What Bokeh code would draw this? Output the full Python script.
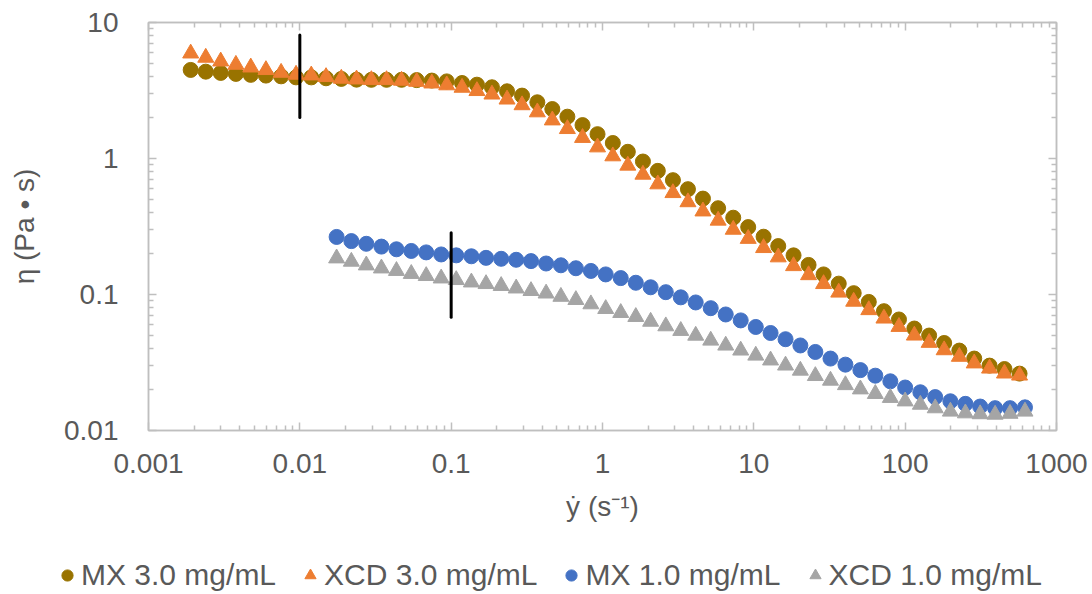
from bokeh.plotting import figure
from bokeh.layouts import column
from bokeh.models import (LogAxis, FixedTicker, CustomJSTickFormatter, Legend,
                          LegendItem)
from bokeh.embed import file_html
from bokeh.resources import INLINE

# ---------------- data ----------------
mx3_x = [0.0019, 0.00239, 0.0030, 0.00378, 0.00474, 0.00597, 0.00752, 0.00944,
         0.0119, 0.0149, 0.0188, 0.0237, 0.0297, 0.0374, 0.0470, 0.0592, 0.0745,
         0.0935, 0.118, 0.148, 0.186, 0.234, 0.294, 0.371, 0.466, 0.586, 0.738,
         0.927, 1.17, 1.47, 1.85, 2.32, 2.92, 3.67, 4.61, 5.81, 7.31, 9.18, 11.6,
         14.5, 18.3, 23.0, 28.9, 36.4, 45.7, 57.5, 72.4, 91.0, 115, 144, 181,
         228, 286, 361, 453, 570]
mx3_eta = [4.48, 4.35, 4.26, 4.19, 4.12, 4.07, 4.02, 3.95, 3.95, 3.89, 3.85,
           3.80, 3.79, 3.79, 3.79, 3.77, 3.74, 3.69, 3.59, 3.49, 3.34, 3.12,
           2.90, 2.59, 2.31, 2.03, 1.76, 1.51, 1.30, 1.12, 0.950, 0.811, 0.693,
           0.595, 0.507, 0.431, 0.367, 0.313, 0.266, 0.227, 0.194, 0.165,
           0.1405, 0.1202, 0.1023, 0.0882, 0.0754, 0.0655, 0.0562, 0.0499,
           0.0440, 0.0387, 0.0338, 0.0300, 0.0283, 0.0262]
xcd3_x = mx3_x
xcd3_eta = [5.93, 5.52, 5.18, 4.90, 4.68, 4.48, 4.28, 4.14, 4.09, 3.98, 3.87,
            3.82, 3.78, 3.78, 3.74, 3.67, 3.57, 3.46, 3.32, 3.14, 2.96, 2.72,
            2.47, 2.19, 1.91, 1.65, 1.42, 1.21, 1.04, 0.888, 0.762, 0.647,
            0.558, 0.478, 0.409, 0.350, 0.300, 0.257, 0.220, 0.188, 0.162,
            0.139, 0.1196, 0.1035, 0.0887, 0.0769, 0.0667, 0.0579, 0.0500,
            0.0442, 0.0390, 0.0349, 0.0312, 0.0286, 0.0263, 0.0254]
mx1_x = [0.0175, 0.0219, 0.0275, 0.0346, 0.0435, 0.0545, 0.0684, 0.0859, 0.108,
         0.136, 0.170, 0.214, 0.269, 0.337, 0.424, 0.531, 0.667, 0.838, 1.05,
         1.32, 1.66, 2.08, 2.62, 3.29, 4.13, 5.19, 6.52, 8.19, 10.3, 12.9, 16.2,
         20.3, 25.5, 32.1, 40.3, 50.6, 63.5, 79.8, 100, 126, 158, 199, 250, 313,
         393, 493, 619]
mx1_eta = [0.265, 0.247, 0.236, 0.225, 0.215, 0.209, 0.204, 0.197, 0.194,
           0.191, 0.186, 0.183, 0.180, 0.176, 0.169, 0.164, 0.156, 0.149,
           0.1405, 0.132, 0.122, 0.113, 0.104, 0.0953, 0.0874, 0.0793, 0.0713,
           0.0645, 0.0577, 0.0521, 0.0469, 0.0422, 0.0378, 0.0338, 0.0305,
           0.0278, 0.0253, 0.0230, 0.0207, 0.0191, 0.0176, 0.0164, 0.0157,
           0.0150, 0.0146, 0.0146, 0.0148]
xcd1_x = mx1_x
xcd1_eta = [0.1847, 0.1746, 0.1640, 0.1558, 0.1493, 0.1420, 0.1370, 0.1315,
            0.1280, 0.1229, 0.1196, 0.1158, 0.1110, 0.1063, 0.1019, 0.0964,
            0.0913, 0.0849, 0.0784, 0.0733, 0.0685, 0.0632, 0.0585, 0.0541,
            0.0499, 0.0459, 0.0422, 0.0388, 0.0356, 0.0328, 0.0301, 0.0276,
            0.0252, 0.0233, 0.0216, 0.0201, 0.0186, 0.0174, 0.0164, 0.0155,
            0.0146, 0.0138, 0.0134, 0.0132, 0.0131, 0.0133, 0.0138]

# vertical marker bars
bar_x = [0.01, 0.1]
bar_low = [2.0, 0.068]
bar_high = [8.1, 0.285]

x_ticks = [0.001, 0.01, 0.1, 1, 10, 100, 1000]
x_tick_labels = ["0.001", "0.01", "0.1", "1", "10", "100", "1000"]
y_ticks = [0.01, 0.1, 1, 10]
y_tick_labels = ["0.01", "0.1", "1", "10"]

series_names = ["MX 3.0 mg/mL", "XCD 3.0 mg/mL", "MX 1.0 mg/mL", "XCD 1.0 mg/mL"]
series_markers = ["circle", "triangle", "circle", "triangle"]
series_colors = ["#997300", "#ED7D31", "#4472C4", "#A5A5A5"]

# ---------------- style ----------------
FONT = "Liberation Sans"
TXT = "#595959"
AX = "#BFBFBF"
FS = "28px"
W = 1092
H_MAIN = 540
H_LEG = 54

p = figure(width=W, height=H_MAIN, x_axis_type="log", y_axis_type="log",
           x_range=(0.001, 1000), y_range=(0.01, 10),
           output_backend="svg", toolbar_location=None,
           min_border_left=148, min_border_right=36,
           min_border_top=22, min_border_bottom=110)
p.frame_align = False
p.xgrid.visible = False
p.ygrid.visible = False
p.outline_line_color = AX
p.outline_line_width = 1.5
p.background_fill_color = "white"
p.border_fill_color = "white"

x_minor = [m * 10.0 ** e for e in range(-3, 3) for m in range(2, 10)]
y_minor = [m * 10.0 ** e for e in range(-2, 1) for m in range(2, 10)]

fmt_code = """
let best = 0, bd = 1e9;
for (let i = 0; i < vals.length; i++) {
  const d = Math.abs(Math.log10(tick) - Math.log10(vals[i]));
  if (d < bd) { bd = d; best = i; }
}
return labels[best];
"""
x_fmt = CustomJSTickFormatter(args=dict(vals=x_ticks, labels=x_tick_labels), code=fmt_code)
y_fmt = CustomJSTickFormatter(args=dict(vals=y_ticks, labels=y_tick_labels), code=fmt_code)


def style_axis(ax, ticks, minor):
    ax.ticker = FixedTicker(ticks=ticks, minor_ticks=minor)
    ax.axis_line_color = AX
    ax.axis_line_width = 1.5
    ax.major_tick_line_color = AX
    ax.major_tick_line_width = 1.5
    ax.major_tick_in = 8
    ax.major_tick_out = 0
    ax.minor_tick_line_color = AX
    ax.minor_tick_line_width = 1.5
    ax.minor_tick_in = 5
    ax.minor_tick_out = 0
    ax.major_label_text_font = FONT
    ax.major_label_text_font_size = FS
    ax.major_label_text_color = TXT
    ax.axis_label_text_font = FONT
    ax.axis_label_text_font_size = FS
    ax.axis_label_text_color = TXT
    ax.axis_label_text_font_style = "normal"


xa = p.xaxis[0]
style_axis(xa, x_ticks, x_minor)
xa.formatter = x_fmt
xa.major_label_standoff = 23
xa.axis_label = "ẏ (s⁻¹)"
xa.axis_label_standoff = 15

ya = p.yaxis[0]
style_axis(ya, y_ticks, y_minor)
ya.formatter = y_fmt
ya.major_label_standoff = 30
ya.axis_label = "η (Pa • s)"
ya.axis_label_standoff = 21

top = LogAxis()
style_axis(top, x_ticks, x_minor)
top.formatter = CustomJSTickFormatter(code="return '';")
top.major_label_text_font_size = "0px"
top.major_label_standoff = 0
p.add_layout(top, "above")

right = LogAxis()
style_axis(right, y_ticks, y_minor)
right.formatter = CustomJSTickFormatter(code="return '';")
right.major_label_text_font_size = "0px"
right.major_label_standoff = 0
p.add_layout(right, "right")

# ---------------- glyphs ----------------
series = [(mx3_x, mx3_eta), (xcd3_x, xcd3_eta), (mx1_x, mx1_eta), (xcd1_x, xcd1_eta)]
for (sx, sy), mk, col in zip(series, series_markers, series_colors):
    p.scatter(sx, sy, marker=mk, size=15 if mk == "circle" else 16,
              fill_color=col, line_color=col)

p.segment(x0=bar_x, y0=bar_low, x1=bar_x, y1=bar_high,
          line_color="black", line_width=3, line_cap="round")

# ---------------- legend (separate strip below the chart) ----------------
# The strip's ranges keep the series' points out of view; only the legend shows.
lg = figure(width=W, height=H_LEG, x_range=(0, 1), y_range=(-2, -1),
            output_backend="svg", toolbar_location=None,
            x_axis_location=None, y_axis_location=None,
            min_border_left=0, min_border_right=0,
            min_border_top=0, min_border_bottom=0)
lg.frame_align = False
lg.xgrid.visible = False
lg.ygrid.visible = False
lg.outline_line_color = None
lg.border_fill_color = "white"

items = []
for (sx, sy), name, mk, col in zip(series, series_names, series_markers, series_colors):
    rr = lg.scatter(x=sx, y=sy, marker=mk, size=12, fill_color=col, line_color=col)
    items.append(LegendItem(label=name, renderers=[rr]))

legend = Legend(
    items=items, orientation="horizontal", location=(53, 2),
    label_text_font=FONT, label_text_font_size="30px", label_text_color=TXT,
    glyph_width=28, glyph_height=28, label_standoff=0, spacing=20,
    padding=0, margin=0, border_line_alpha=0, background_fill_alpha=0)
lg.add_layout(legend)

layout = column(p, lg, spacing=0)
open("out.html", "w").write(file_html(layout, INLINE))
